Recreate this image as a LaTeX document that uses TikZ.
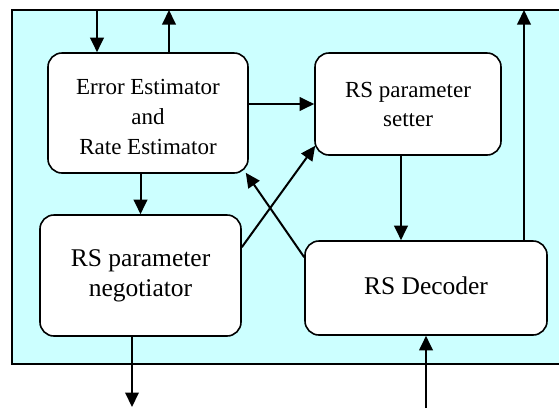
\documentclass[tikz,border=0pt]{standalone}
\usepackage{fontspec}
\setmainfont{Liberation Serif}
\usetikzlibrary{arrows.meta,calc}
\definecolor{bgcyan}{RGB}{204,255,255}
\tikzset{
  blockbox/.style={draw=black, fill=white, line width=1.6pt, rounded corners=14pt, inner sep=0pt},
  txt/.style={align=center, inner sep=0pt},
  arr/.style={line width=2pt, -{Triangle[width=13.5pt,length=14.5pt]}},
}
\begin{document}
\begin{tikzpicture}[x=1pt,y=-1pt]
\useasboundingbox (0,0) rectangle (559,408);
% panel (its right side runs off the picture)
\fill[bgcyan] (12,10) rectangle (559,364);
\draw[line width=1.6pt] (559,10) -- (12,10) -- (12,364) -- (559,364);
% boxes
\node[blockbox, minimum width=200pt, minimum height=120pt] (ee) at (148,113) {};
\node[txt, font=\fontsize{23}{30}\selectfont] (eet) at (148,116.5) {Error Estimator\\and\\Rate Estimator};
\node[blockbox, minimum width=186pt, minimum height=102pt, font=\fontsize{23}{29}\selectfont, align=center] (set) at (408,104) {RS parameter\\setter};
\node[blockbox, minimum width=201pt, minimum height=121pt, font=\fontsize{25.5}{30}\selectfont, align=center] (neg) at (140.5,275.5) {RS parameter\\negotiator};
\node[blockbox, minimum width=242pt, minimum height=94pt] (dec) at (426,288) {};
\node[txt, font=\fontsize{25.5}{30}\selectfont] (dect) at (426,285.5) {RS Decoder};
% external ends and connector points
\coordinate (tin) at (97,10);
\coordinate (tout) at (169,10);
\coordinate (rout) at (524,10);
\coordinate (bout) at (132,407);
\coordinate (bin) at (426,408);
\coordinate (sdown) at ($(set.south)+(-7,0)$);
\coordinate (negout) at ($(neg.north east)+(0,33)$);
\coordinate (setin) at ($(set.south west)+(1,-10)$);
\coordinate (decout) at ($(dec.north west)+(0,17)$);
\coordinate (eein) at ($(ee.south east)+(-3,-1)$);
% connectors
\draw[arr] (tin) -- (tin |- ee.north);
\draw[arr] (tout |- ee.north) -- (tout);
\draw[arr] (ee.east |- set.west) -- (set.west);
\draw[arr] (ee.south -| neg.north) -- (neg.north);
\draw[arr] (negout) -- (setin);
\draw[arr] (decout) -- (eein);
\draw[arr] (sdown) -- (sdown |- dec.north);
\draw[arr] (rout |- dec.north) -- (rout);
\draw[arr] (bout |- neg.south) -- (bout);
\draw[arr] (bin) -- (bin |- dec.south);
\end{tikzpicture}
\end{document}
